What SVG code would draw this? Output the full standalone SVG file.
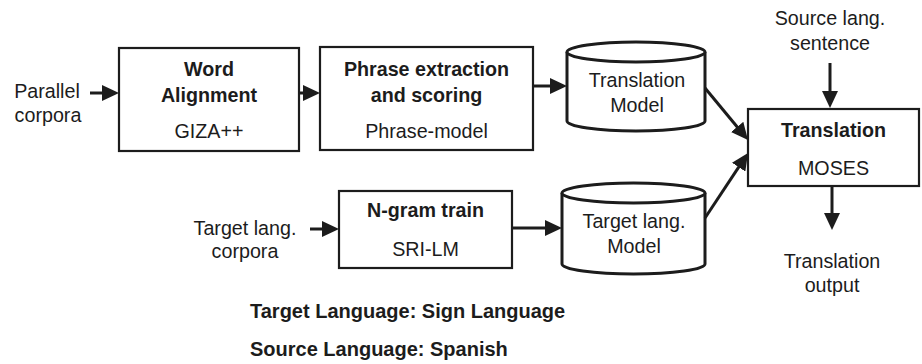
<svg xmlns="http://www.w3.org/2000/svg" width="922" height="364" viewBox="0 0 922 364">
  <style>
    .box { fill: #ffffff; stroke: #1c1c1c; stroke-width: 2.2; }
    .db { fill: #ffffff; stroke: #1c1c1c; stroke-width: 3; }
    .t { font-family: "Liberation Sans", Arial, sans-serif; font-size: 19.7px; fill: #1c1c1c; text-anchor: middle; }
    .b { font-weight: bold; }
    .note { font-family: "Liberation Sans", Arial, sans-serif; font-size: 20px; font-weight: bold; fill: #1c1c1c; }
    .edge { fill: none; stroke: #1c1c1c; stroke-width: 3; marker-end: url(#arrow); }
  </style>
  <defs>
    <marker id="arrow" viewBox="0 0 17 16" refX="7" refY="8" markerWidth="17" markerHeight="16" markerUnits="userSpaceOnUse" orient="auto">
      <path d="M0,0 L17,8 L0,16 Z" fill="#1c1c1c"/>
    </marker>
  </defs>
  <rect width="922" height="364" fill="#ffffff"/>

  <!-- inputs -->
  <g id="parallel-corpora">
    <text class="t" x="47" y="98">Parallel</text>
    <text class="t" x="48" y="122">corpora</text>
  </g>
  <g id="target-corpora">
    <text class="t" x="245" y="235">Target lang.</text>
    <text class="t" x="245" y="258">corpora</text>
  </g>
  <g id="source-sentence">
    <text class="t" x="830" y="25">Source lang.</text>
    <text class="t" x="830" y="50">sentence</text>
  </g>

  <!-- processing steps -->
  <g id="word-alignment">
    <rect class="box" x="119" y="48" width="180" height="103"/>
    <text class="t b" x="209" y="76">Word</text>
    <text class="t b" x="209" y="102">Alignment</text>
    <text class="t" x="209" y="138">GIZA++</text>
  </g>
  <g id="phrase-extraction">
    <rect class="box" x="320" y="47" width="213" height="103"/>
    <text class="t b" x="426.5" y="76">Phrase extraction</text>
    <text class="t b" x="426.5" y="102">and scoring</text>
    <text class="t" x="426.5" y="138">Phrase-model</text>
  </g>
  <g id="ngram-train">
    <rect class="box" x="339" y="191" width="173" height="77"/>
    <text class="t b" x="425.5" y="217">N-gram train</text>
    <text class="t" x="425.5" y="256">SRI-LM</text>
  </g>

  <!-- model stores -->
  <g id="translation-model">
    <path class="db" d="M567,52 V121 A69,10 0 0 0 705,121 V52"/>
    <ellipse class="db" cx="636" cy="52" rx="69" ry="10"/>
    <text class="t" x="637" y="87">Translation</text>
    <text class="t" x="637" y="112">Model</text>
  </g>
  <g id="target-model">
    <path class="db" d="M562,193 V264 A71.5,10 0 0 0 705,264 V193"/>
    <ellipse class="db" cx="633.5" cy="193" rx="71.5" ry="10"/>
    <text class="t" x="634" y="228">Target lang.</text>
    <text class="t" x="634" y="253">Model</text>
  </g>

  <!-- decoder -->
  <g id="translation">
    <rect class="box" x="748" y="109" width="171" height="77"/>
    <text class="t b" x="833.5" y="137">Translation</text>
    <text class="t" x="833.5" y="175">MOSES</text>
  </g>
  <g id="translation-output">
    <text class="t" x="832" y="268">Translation</text>
    <text class="t" x="832" y="292">output</text>
  </g>

  <!-- connectors -->
  <g id="connectors">
    <line class="edge" x1="90" y1="93" x2="109" y2="93"/>
    <line class="edge" x1="299" y1="93" x2="310" y2="93"/>
    <line class="edge" x1="533" y1="86" x2="557" y2="86"/>
    <line class="edge" x1="310" y1="229" x2="329" y2="229"/>
    <line class="edge" x1="512" y1="228" x2="552" y2="228"/>
    <line class="edge" x1="705" y1="88" x2="741.6" y2="132.3"/>
    <line class="edge" x1="705" y1="218" x2="742.5" y2="161.3"/>
    <line class="edge" x1="830" y1="63" x2="830" y2="98"/>
    <line class="edge" x1="832" y1="186" x2="832" y2="220"/>
  </g>

  <!-- language notes -->
  <g id="notes">
    <text class="note" x="250" y="318">Target Language: Sign Language</text>
    <text class="note" x="250" y="356">Source Language: Spanish</text>
  </g>
</svg>
